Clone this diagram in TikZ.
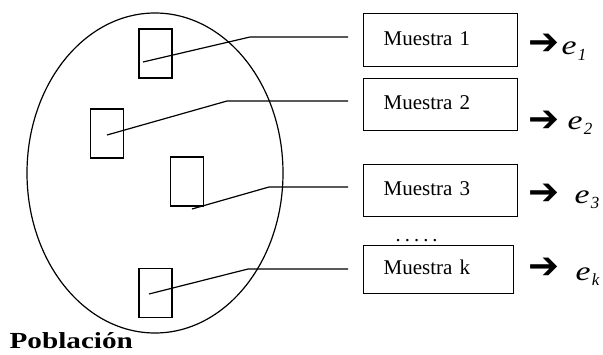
\documentclass[tikz,border=0pt]{standalone}
\usepackage{fontspec}
\setmainfont{Liberation Serif}
\newfontfamily\symfont{DejaVu Sans}
\usetikzlibrary{shapes.geometric}
\begin{document}
\begin{tikzpicture}[x=1pt,y=-1pt,
  line width=1.2pt,
  sample/.style={draw, rectangle, minimum width=33pt, minimum height=49pt, inner sep=0pt},
  mbox/.style={draw, rectangle, anchor=north west, line width=1.4pt, minimum height=52pt, text width=114pt, inner xsep=20pt, inner ysep=0pt, align=left, font=\fontsize{21}{24}\selectfont, text height=14pt, text depth=4pt},
  conn/.style={line width=1.2pt},
  arr/.style={anchor=west, inner sep=0pt, font=\symfont\bfseries\fontsize{37}{40}\selectfont},
  est/.style={anchor=base west, inner sep=0pt, font=\fontsize{27}{30}\selectfont\itshape},
  sub/.style={anchor=base west, inner sep=0pt, font=\fontsize{17}{18}\selectfont\itshape}
]
\useasboundingbox (0,0) rectangle (603,354);
% population
\node[draw, ellipse, minimum width=256pt, minimum height=320pt, inner sep=0pt] (pop) at (155,173) {};
\node[anchor=base west, inner sep=0pt, font=\fontsize{23}{26}\selectfont\bfseries] (lab) at (9,348) {\scalebox{1.27}[1]{Población}};
% samples inside
\node[sample] (s1) at (155.5,53.5) {};
\node[sample] (s2) at (107,133.5) {};
\node[sample] (s3) at (187,181.5) {};
\node[sample] (s4) at (155.5,293) {};
% boxes
\node[mbox, minimum height=53pt] (m1) at (363,13) {Muestra 1};
\node[mbox] (m2) at (363,78) {Muestra 2};
\node[mbox] (m3) at (363,164) {Muestra 3};
\node[mbox, minimum height=48pt, text width=110pt] (m4) at (363,245) {Muestra k};
\node[anchor=base west, inner sep=0pt, font=\fontsize{20.5}{24}\selectfont\addfontfeature{LetterSpace=20}] (dots) at (395,241) {.....};
% connectors
\coordinate (p1) at (143,62);  \coordinate (k1) at (250,37);  \coordinate (q1) at (348,37);
\coordinate (p2) at (107,135); \coordinate (k2) at (227,101); \coordinate (q2) at (348,101);
\coordinate (p3) at (192,209); \coordinate (k3) at (269,187); \coordinate (q3) at (348,187);
\coordinate (p4) at (149,294); \coordinate (k4) at (248,269); \coordinate (q4) at (348,269);
\draw[conn] (p1) -- (k1) -- (q1);
\draw[conn] (p2) -- (k2) -- (q2);
\draw[conn] (p3) -- (k3) -- (q3);
\draw[conn] (p4) -- (k4) -- (q4);
% arrows and estimates
\node[arr] (a1) at (528,44) {➔};
\node[arr] (a2) at (528,121) {➔};
\node[arr] (a3) at (528,194) {➔};
\node[arr] (a4) at (528,268.5) {➔};
\node[est] (e1) at (561,54) {\scalebox{1.25}[1]{e}};
\node[sub] (i1) at (e1.base east) [yshift=-6pt] {1};
\node[est] (e2) at (567,129) {\scalebox{1.25}[1]{e}};
\node[sub] (i2) at (e2.base east) [yshift=-5pt] {2};
\node[est] (e3) at (574,203) {\scalebox{1.25}[1]{e}};
\node[sub] (i3) at (e3.base east) [yshift=-5pt] {3};
\node[est] (e4) at (575,280) {\scalebox{1.25}[1]{e}};
\node[sub] (i4) at (e4.base east) [yshift=-5pt] {k};
\end{tikzpicture}
\end{document}
